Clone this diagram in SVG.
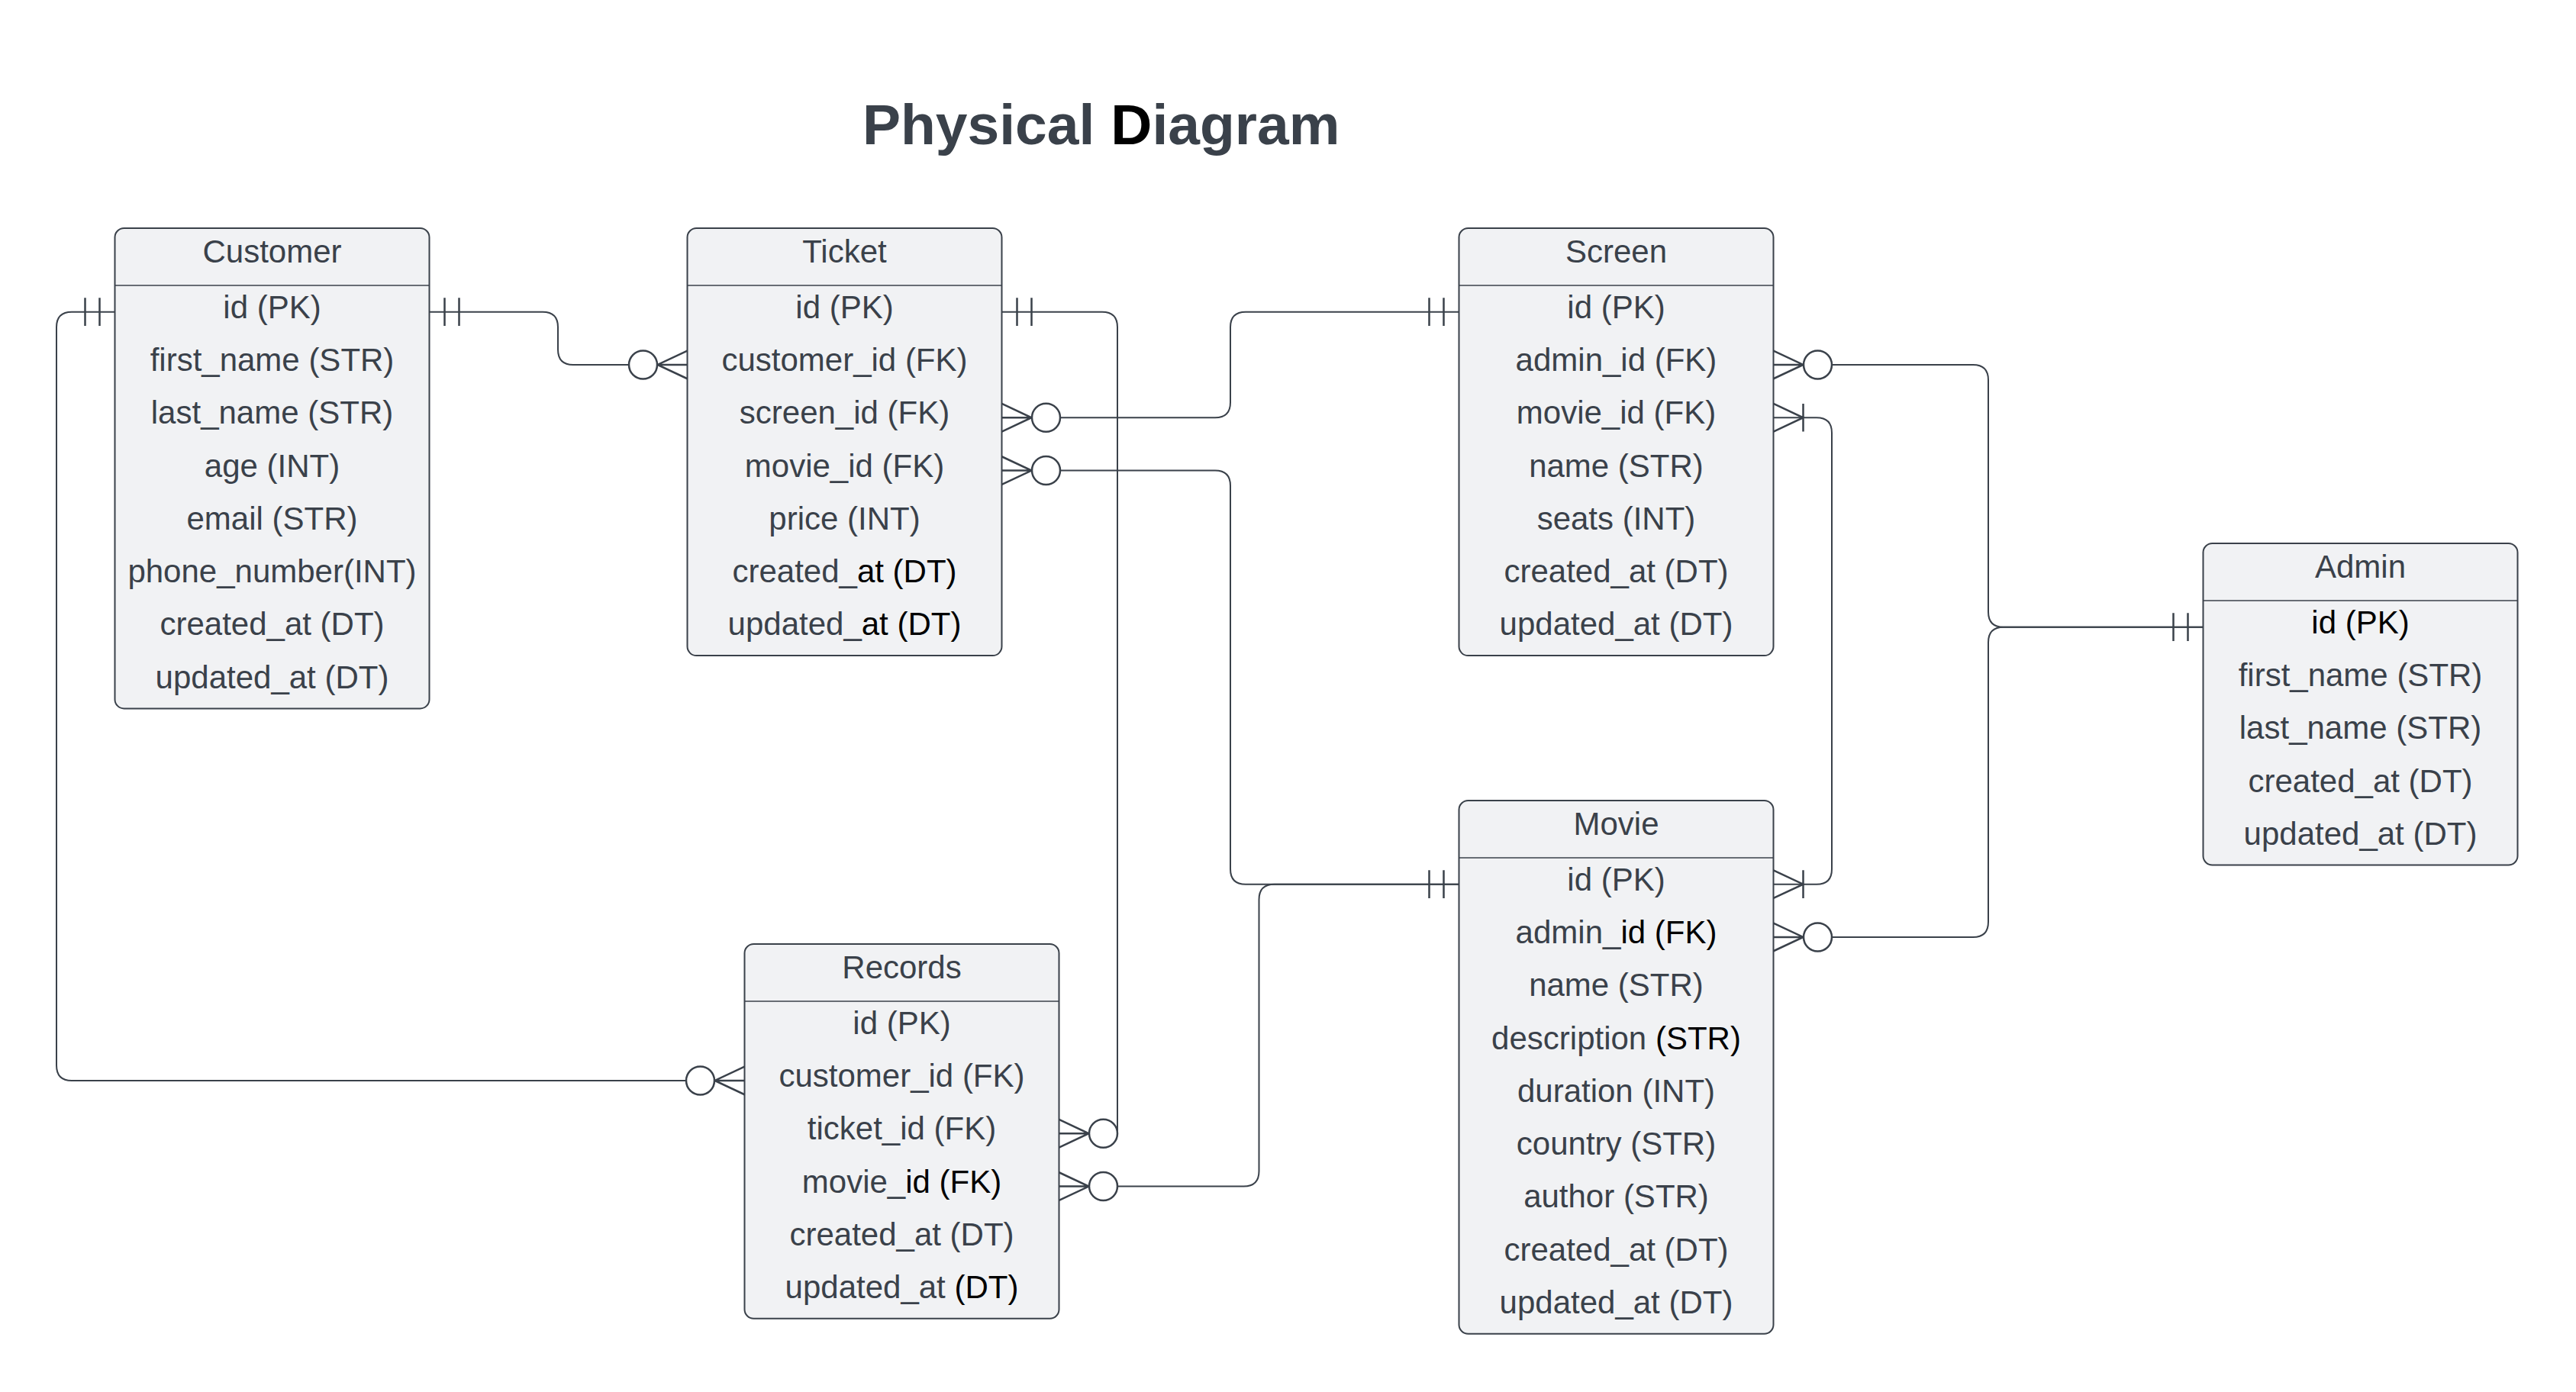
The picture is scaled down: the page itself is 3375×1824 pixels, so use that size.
<svg xmlns="http://www.w3.org/2000/svg" width="3375" height="1824" viewBox="0 0 3375 1824">
<style>
.bg{fill:#ffffff}
.box{fill:#f1f2f4;stroke:#3a414a;stroke-width:2}
.div{stroke:#3a414a;stroke-width:1.5}
.t{font-family:"Liberation Sans",Arial,sans-serif;font-size:42px;fill:#3a414a;text-anchor:middle}
.k{fill:#000000}
.title{font-family:"Liberation Sans",Arial,sans-serif;font-size:75px;font-weight:bold;fill:#3a414a}
.c{fill:none;stroke:#3a414a;stroke-width:2}
.s{fill:none;stroke:#3a414a;stroke-width:2.5}
.o{fill:#ffffff;stroke:#3a414a;stroke-width:2.5}
</style>
<rect class="bg" x="0" y="0" width="3375" height="1824"/>
<text class="title" x="1130" y="189">Physical <tspan class="k">D</tspan>iagram</text>

<g id="connectors">
  <!-- Customer.id -> Ticket.customer_id -->
  <path class="c" d="M562.5,408.65 H711 Q731,408.65 731,428.65 V457.95 Q731,477.95 751,477.95 H824"/>
  <!-- Customer.id -> Records.customer_id -->
  <path class="c" d="M150.5,408.65 H94 Q74,408.65 74,428.65 V1395.95 Q74,1415.95 94,1415.95 H899"/>
  <!-- Ticket.id -> Records.ticket_id -->
  <path class="c" d="M1312.5,408.65 H1444 Q1464,408.65 1464,428.65 V1485.25"/>
  <!-- Ticket.screen_id -> Screen.id -->
  <path class="c" d="M1389,547.25 H1592 Q1612,547.25 1612,527.25 V428.65 Q1612,408.65 1632,408.65 H1911.5"/>
  <!-- Ticket.movie_id -> Movie.id -->
  <path class="c" d="M1389,616.55 H1592 Q1612,616.55 1612,636.55 V1138.65 Q1612,1158.65 1632,1158.65 H1911.5"/>
  <!-- Records.movie_id -> Movie.id -->
  <path class="c" d="M1464,1554.55 H1629.5 Q1649.5,1554.55 1649.5,1534.55 V1178.65 Q1649.5,1158.65 1669.5,1158.65 H1911.5"/>
  <!-- Screen.admin_id -> Admin.id -->
  <path class="c" d="M2400,477.95 H2585 Q2605,477.95 2605,497.95 V801.65 Q2605,821.65 2625,821.65 H2886.5"/>
  <!-- Movie.admin_id -> Admin.id -->
  <path class="c" d="M2400,1227.95 H2585 Q2605,1227.95 2605,1207.95 V841.65 Q2605,821.65 2625,821.65 H2886.5"/>
  <!-- Screen.movie_id -> Movie.id -->
  <path class="c" d="M2323.5,547.25 H2380 Q2400,547.25 2400,567.25 V1138.65 Q2400,1158.65 2380,1158.65 H2323.5"/>

  <!-- one and only one bars -->
  <path class="s" d="M582.5,390.35 V426.95 M601.5,390.35 V426.95"/>
  <path class="s" d="M130.5,390.35 V426.95 M111.5,390.35 V426.95"/>
  <path class="s" d="M1332.5,390.35 V426.95 M1351.5,390.35 V426.95"/>
  <path class="s" d="M1891.5,390.35 V426.95 M1872.5,390.35 V426.95"/>
  <path class="s" d="M1891.5,1140.35 V1176.95 M1872.5,1140.35 V1176.95"/>
  <path class="s" d="M2866.5,803.35 V839.95 M2847.5,803.35 V839.95"/>

  <!-- zero or many -->
  <path class="s" d="M900.5,459.65 L861.5,477.95 L900.5,496.25 M861.5,477.95 H900.5"/>
  <circle class="o" cx="842.5" cy="477.95" r="18.5"/>
  <path class="s" d="M975.5,1397.65 L936.5,1415.95 L975.5,1434.25 M936.5,1415.95 H975.5"/>
  <circle class="o" cx="917.5" cy="1415.95" r="18.5"/>
  <path class="s" d="M1387.5,1466.95 L1426.5,1485.25 L1387.5,1503.55 M1426.5,1485.25 H1387.5"/>
  <circle class="o" cx="1445.5" cy="1485.25" r="18.5"/>
  <path class="s" d="M1312.5,528.95 L1351.5,547.25 L1312.5,565.55 M1351.5,547.25 H1312.5"/>
  <circle class="o" cx="1370.5" cy="547.25" r="18.5"/>
  <path class="s" d="M1312.5,598.25 L1351.5,616.55 L1312.5,634.85 M1351.5,616.55 H1312.5"/>
  <circle class="o" cx="1370.5" cy="616.55" r="18.5"/>
  <path class="s" d="M1387.5,1536.25 L1426.5,1554.55 L1387.5,1572.85 M1426.5,1554.55 H1387.5"/>
  <circle class="o" cx="1445.5" cy="1554.55" r="18.5"/>
  <path class="s" d="M2323.5,459.65 L2362.5,477.95 L2323.5,496.25 M2362.5,477.95 H2323.5"/>
  <circle class="o" cx="2381.5" cy="477.95" r="18.5"/>
  <path class="s" d="M2323.5,1209.65 L2362.5,1227.95 L2323.5,1246.25 M2362.5,1227.95 H2323.5"/>
  <circle class="o" cx="2381.5" cy="1227.95" r="18.5"/>

  <!-- one or many -->
  <path class="s" d="M2323.5,528.95 L2362.5,547.25 L2323.5,565.55 M2362.5,528.95 V565.55"/>
  <path class="s" d="M2323.5,1140.35 L2362.5,1158.65 L2323.5,1176.95 M2362.5,1140.35 V1176.95"/>
</g>

<g id="customer">
  <rect class="box" x="150.5" y="299" width="412" height="629.4" rx="12"/>
  <line class="div" x1="150.5" y1="374" x2="562.5" y2="374"/>
  <text class="t" x="356.5" y="343.5">Customer</text>
  <text class="t" x="356.5" y="416.65">id (PK)</text>
  <text class="t" x="356.5" y="485.95">first_name (STR)</text>
  <text class="t" x="356.5" y="555.25">last_name (STR)</text>
  <text class="t" x="356.5" y="624.55">age (INT)</text>
  <text class="t" x="356.5" y="693.85">email (STR)</text>
  <text class="t" x="356.5" y="763.15">phone_number(INT)</text>
  <text class="t" x="356.5" y="832.45">created_at (DT)</text>
  <text class="t" x="356.5" y="901.75">updated_at (DT)</text>
</g>

<g id="ticket">
  <rect class="box" x="900.5" y="299" width="412" height="560.1" rx="12"/>
  <line class="div" x1="900.5" y1="374" x2="1312.5" y2="374"/>
  <text class="t" x="1106.5" y="343.5">Ticket</text>
  <text class="t" x="1106.5" y="416.65">id (PK)</text>
  <text class="t" x="1106.5" y="485.95">customer_id (FK)</text>
  <text class="t" x="1106.5" y="555.25">screen_id (FK)</text>
  <text class="t" x="1106.5" y="624.55">movie_id (FK)</text>
  <text class="t" x="1106.5" y="693.85">price (INT)</text>
  <text class="t" x="1106.5" y="763.15">created_<tspan class="k">at (DT)</tspan></text>
  <text class="t" x="1106.5" y="832.45">updated_<tspan class="k">at (DT)</tspan></text>
</g>

<g id="screen">
  <rect class="box" x="1911.5" y="299" width="412" height="560.1" rx="12"/>
  <line class="div" x1="1911.5" y1="374" x2="2323.5" y2="374"/>
  <text class="t" x="2117.5" y="343.5">Screen</text>
  <text class="t" x="2117.5" y="416.65">id (PK)</text>
  <text class="t" x="2117.5" y="485.95">admin_id (FK)</text>
  <text class="t" x="2117.5" y="555.25">movie_id (FK)</text>
  <text class="t" x="2117.5" y="624.55">name (STR)</text>
  <text class="t" x="2117.5" y="693.85">seats (INT)</text>
  <text class="t" x="2117.5" y="763.15">created_at (DT)</text>
  <text class="t" x="2117.5" y="832.45">updated_at (DT)</text>
</g>

<g id="admin">
  <rect class="box" x="2886.5" y="712" width="412" height="421.5" rx="12"/>
  <line class="div" x1="2886.5" y1="787" x2="3298.5" y2="787"/>
  <text class="t" x="3092.5" y="756.5">Admin</text>
  <text class="t k" x="3092.5" y="829.65">id (PK)</text>
  <text class="t" x="3092.5" y="898.95">first_name (STR)</text>
  <text class="t" x="3092.5" y="968.25">last_name (STR)</text>
  <text class="t" x="3092.5" y="1037.55">created_at (DT)</text>
  <text class="t" x="3092.5" y="1106.85">updated_at (DT)</text>
</g>

<g id="movie">
  <rect class="box" x="1911.5" y="1049" width="412" height="698.7" rx="12"/>
  <line class="div" x1="1911.5" y1="1124" x2="2323.5" y2="1124"/>
  <text class="t" x="2117.5" y="1093.5">Movie</text>
  <text class="t" x="2117.5" y="1166.65">id (PK)</text>
  <text class="t" x="2117.5" y="1235.95">admin_<tspan class="k">id (FK)</tspan></text>
  <text class="t" x="2117.5" y="1305.25">name (STR)</text>
  <text class="t" x="2117.5" y="1374.55">description <tspan class="k">(STR)</tspan></text>
  <text class="t" x="2117.5" y="1443.85">duration (INT)</text>
  <text class="t" x="2117.5" y="1513.15">country (STR)</text>
  <text class="t" x="2117.5" y="1582.45">author (STR)</text>
  <text class="t" x="2117.5" y="1651.75">created_at (DT)</text>
  <text class="t" x="2117.5" y="1721.05">updated_at (DT)</text>
</g>

<g id="records">
  <rect class="box" x="975.5" y="1237" width="412" height="490.8" rx="12"/>
  <line class="div" x1="975.5" y1="1312" x2="1387.5" y2="1312"/>
  <text class="t" x="1181.5" y="1281.5">Records</text>
  <text class="t" x="1181.5" y="1354.65">id (PK)</text>
  <text class="t" x="1181.5" y="1423.95">customer_id (FK)</text>
  <text class="t" x="1181.5" y="1493.25">ticket_id (FK)</text>
  <text class="t" x="1181.5" y="1562.55">movie_<tspan class="k">id (FK)</tspan></text>
  <text class="t" x="1181.5" y="1631.85">created_at (DT)</text>
  <text class="t" x="1181.5" y="1701.15">updated_at <tspan class="k">(DT)</tspan></text>
</g>
</svg>
